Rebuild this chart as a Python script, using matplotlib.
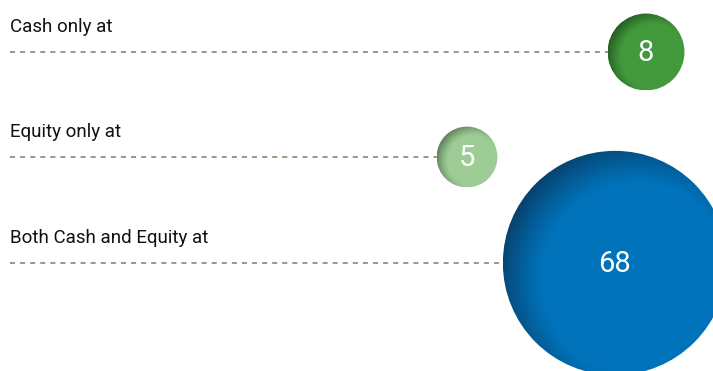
import numpy as np
import matplotlib.pyplot as plt
from matplotlib.patches import Circle
from matplotlib.colors import to_rgb

labels = ["Cash only at", "Equity only at", "Both Cash and Equity at"]
values = [8, 5, 68]
colors = ["#429a3c", "#9dcc95", "#0073bb"]
edge_colors = ["#255a22", "#5d7d58", "#07416c"]

# layout (pixel coordinates)
row_y = [52, 157, 263]
center_x = [646, 467, 615]
k = 13.6  # radius per sqrt(value)

plt.rcParams['font.family'] = ['Roboto', 'DejaVu Sans']

fig = plt.figure(figsize=(7.13, 3.71), dpi=100)
ax = fig.add_axes([0, 0, 1, 1])
ax.set_xlim(0, 713)
ax.set_ylim(371, 0)
ax.axis('off')


def shaded_circle(cx, cy, r, base, dark):
    n = 300
    xs = np.linspace(cx - r, cx + r, n)
    ys = np.linspace(cy - r, cy + r, n)
    X, Y = np.meshgrid(xs, ys)
    # light from the lower right, so the upper-left rim darkens
    d = np.hypot(X - (cx + 0.2 * r), Y - (cy + 0.15 * r)) / r
    t = np.clip((d - 0.85) / 0.4, 0, 1) ** 1.2
    b = np.array(to_rgb(base))
    dk = np.array(to_rgb(dark))
    img = b[None, None, :] * (1 - t[..., None]) + dk[None, None, :] * t[..., None]
    im = ax.imshow(img, extent=(cx - r, cx + r, cy + r, cy - r), origin='upper',
                   interpolation='bilinear', zorder=3)
    clip = Circle((cx, cy), r, transform=ax.transData, facecolor='none', edgecolor='none')
    ax.add_patch(clip)
    im.set_clip_path(clip)


for lab, v, c, dc, y, cx in zip(labels, values, colors, edge_colors, row_y, center_x):
    r = k * np.sqrt(v)
    ax.plot([10, cx - r], [y, y], color='#8b7762', lw=1.1, linestyle=(0, (3.3, 3.3)), zorder=1)
    ax.text(10, y - 20, lab, fontsize=13.5, color='#111111', ha='left', va='baseline')
    shaded_circle(cx, cy=y, r=r, base=c, dark=dc)
    ax.text(cx, y + 1, str(v), fontsize=21, color='white',
            ha='center', va='center', zorder=5)

ax.set_xlim(0, 713)
ax.set_ylim(371, 0)
fig.savefig('out.png', dpi=100)
